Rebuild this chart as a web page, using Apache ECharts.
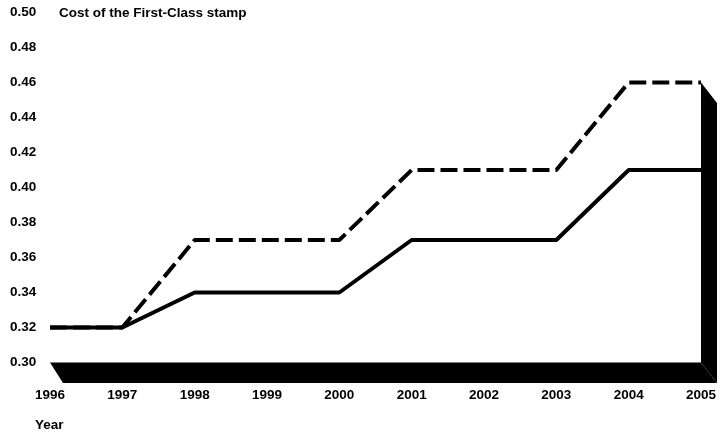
<!DOCTYPE html>
<html>
<head>
<meta charset="utf-8">
<script src="https://cdn.jsdelivr.net/npm/echarts@6/dist/echarts.min.js"></script>
<style>
  html, body { margin: 0; padding: 0; background: #fff; }
  #chart { width: 721px; height: 435px; }
</style>
</head>
<body>
<div id="chart"></div>
<script>
// Postage rates by year
const years = ['1996', '1997', '1998', '1999', '2000', '2001', '2002', '2003', '2004', '2005'];
const firstClassRate = [0.32, 0.32, 0.34, 0.34, 0.34, 0.37, 0.37, 0.37, 0.41, 0.41];
const upperRate = [0.32, 0.32, 0.37, 0.37, 0.37, 0.41, 0.41, 0.41, 0.46, 0.46];
const yMin = 0.30;
const yMax = 0.50;
const yStep = 0.02;

const FONT = '"Liberation Sans", Arial, sans-serif';
const FONT_SIZE = 13.5;
const chart = echarts.init(document.getElementById('chart'), null, { renderer: 'canvas' });

// Depth of the dark floor and back wall (pixels)
const DEPTH_X_LEFT = 13;
const DEPTH_X_RIGHT = 16;
const DEPTH_Y = 20.5;

function renderBase(params, api) {
  const last = years.length - 1;
  const floorL = api.coord([0, yMin]);
  const floorR = api.coord([last, yMin]);
  const wallTop = api.coord([last, Math.max.apply(null, upperRate)]);
  return {
    type: 'group',
    children: [
      {
        type: 'polygon',
        shape: { points: [
          [floorL[0], floorL[1]],
          [floorR[0], floorR[1]],
          [floorR[0] + DEPTH_X_RIGHT, floorR[1] + DEPTH_Y],
          [floorL[0] + DEPTH_X_LEFT, floorL[1] + DEPTH_Y]
        ] },
        style: { fill: '#000' }
      },
      {
        type: 'polygon',
        shape: { points: [
          [wallTop[0], wallTop[1]],
          [wallTop[0] + DEPTH_X_RIGHT, wallTop[1] + DEPTH_Y],
          [floorR[0] + DEPTH_X_RIGHT, floorR[1] + DEPTH_Y],
          [floorR[0], floorR[1]]
        ] },
        style: { fill: '#000' }
      }
    ]
  };
}

const labelStyle = { fontFamily: FONT, fontSize: FONT_SIZE, fontWeight: 'bold', color: '#000' };

chart.setOption({
  animation: false,
  backgroundColor: '#fff',
  textStyle: { fontFamily: FONT },
  title: [
    {
      text: 'Cost of the First-Class stamp',
      left: 54, top: 1,
      textStyle: labelStyle
    },
    {
      text: 'Year',
      left: 30, top: 413,
      textStyle: labelStyle
    }
  ],
  grid: { left: 50, right: 20, top: 12.5, bottom: 72.5, containLabel: false },
  xAxis: {
    type: 'category',
    data: years,
    boundaryGap: false,
    axisLine: { show: false },
    axisTick: { show: false },
    splitLine: { show: false },
    axisLabel: Object.assign({ margin: 26, interval: 0 }, labelStyle)
  },
  yAxis: {
    type: 'value',
    min: yMin, max: yMax, interval: yStep,
    axisLine: { show: false },
    axisTick: { show: false },
    splitLine: { show: false },
    axisLabel: Object.assign({
      margin: 40,
      align: 'left',
      formatter: v => v.toFixed(2)
    }, labelStyle)
  },
  series: [
    {
      type: 'custom',
      renderItem: renderBase,
      data: [[0, yMin]],
      clip: false,
      silent: true,
      z: 1
    },
    {
      type: 'line',
      data: upperRate,
      symbol: 'none',
      lineStyle: { color: '#000', width: 4, type: [17, 6] },
      z: 3
    },
    {
      type: 'line',
      data: firstClassRate,
      symbol: 'none',
      lineStyle: { color: '#000', width: 4 },
      z: 4
    }
  ]
});
</script>
</body>
</html>
